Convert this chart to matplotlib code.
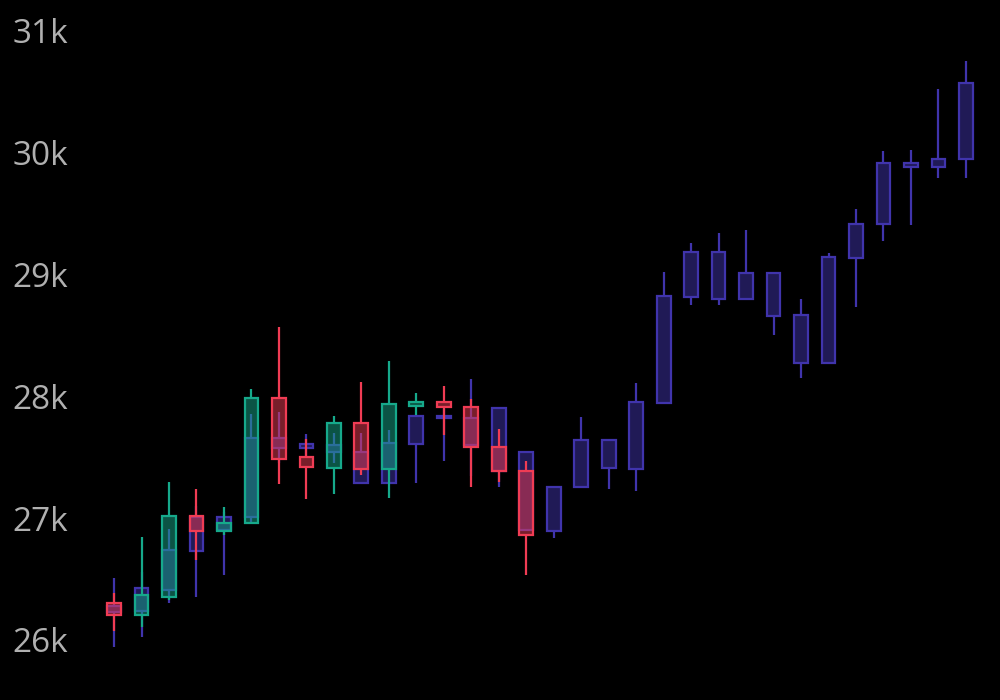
import numpy as np
import matplotlib.pyplot as plt

# first series: 32 sessions, drawn in indigo for both directions
a_open = [26230, 26238, 26411, 26733, 26903, 27012, 27576, 27576, 27541, 27287,
          27287, 27607, 27821, 27600, 27383, 26903, 26897, 27254, 27410, 27406,
          27948, 28819, 28797, 28797, 28663, 28277, 28277, 29134, 29413, 29881,
          29881, 29947]
a_high = [26509, 26560, 26911, 27100, 27050, 27853, 27874, 27689, 27700, 27700,
          27724, 27842, 27900, 28140, 27907, 27546, 27259, 27828, 27642, 28108,
          29019, 29262, 29339, 29366, 29016, 28800, 29175, 29539, 30018, 30023,
          30521, 30757]
a_low = [25942, 26025, 26304, 26355, 26534, 26960, 27450, 27500, 27450, 27287,
         27287, 27287, 27472, 27350, 27254, 26903, 26835, 27254, 27237, 27226,
         27948, 28750, 28750, 28797, 28504, 28149, 28277, 28737, 29276, 29407,
         29790, 29790]
a_close = [26279, 26427, 26739, 27010, 27012, 27656, 27656, 27609, 27601, 27546,
           27615, 27842, 27842, 27826, 27907, 27546, 27259, 27642, 27642, 27954,
           28824, 29186, 29188, 29016, 29016, 28668, 29142, 29415, 29919, 29919,
           29952, 30576]

# second series: first 16 sessions, green up / red down
b_open = [26301, 26205, 26356, 27021, 26895, 26958, 27989, 27498, 27415, 27780,
          27401, 27921, 27951, 27916, 27588, 27390]
b_high = [26388, 26846, 27300, 27237, 27090, 28058, 28572, 27650, 27835, 28116,
          28291, 28026, 28088, 27976, 27730, 27472]
b_low = [26076, 26110, 26330, 26657, 26862, 26958, 27278, 27155, 27199, 27355,
         27168, 27847, 27683, 27254, 27300, 26534]
b_close = [26205, 26369, 27021, 26897, 26963, 27989, 27486, 27416, 27780, 27404,
           27935, 27957, 27910, 27582, 27383, 26862]

yticks = [26000, 27000, 28000, 29000, 30000, 31000]
ytick_labels = ['26k', '27k', '28k', '29k', '30k', '31k']

INDIGO = '#4034ac'
GREEN = '#16a98b'
RED = '#f03c54'


def draw_candles(ax, o, h, l, c, up_color, down_color, z):
    o, h, l, c = map(np.asarray, (o, h, l, c))
    x = np.arange(len(o))
    top = np.maximum(o, c)
    bot = np.minimum(o, c)
    cols = [up_color if cc >= oo else down_color for oo, cc in zip(o, c)]
    # wicks only outside the body, like plotly does
    ax.vlines(x, top, h, colors=cols, linewidth=1.6, zorder=z)
    ax.vlines(x, l, bot, colors=cols, linewidth=1.6, zorder=z)
    heights = np.maximum(top - bot, 8)
    for xi, b, hh, col in zip(x, bot, heights, cols):
        ax.bar(xi, hh, bottom=b, width=0.5, color=col, alpha=0.5,
               linewidth=0, zorder=z)
        ax.bar(xi, hh, bottom=b, width=0.5, fill=False, edgecolor=col,
               linewidth=1.6, zorder=z + 0.1)


fig = plt.figure(figsize=(10, 7), dpi=100, facecolor='black')
ax = fig.add_axes([0, 0, 1, 1])
ax.set_facecolor('black')

draw_candles(ax, a_open, a_high, a_low, a_close, INDIGO, INDIGO, 2)
draw_candles(ax, b_open, b_high, b_low, b_close, GREEN, RED, 3)

ax.set_xlim(-4.15, 32.24)
ax.set_ylim(25507, 31254)
ax.set_xticks([])
ax.set_yticks(yticks)
ax.set_yticklabels(ytick_labels, fontsize=24, color='#b0b0b0', family='Open Sans')
ax.tick_params(axis='y', length=0, pad=-9)
for lab in ax.get_yticklabels():
    lab.set_horizontalalignment('left')
for s in ax.spines.values():
    s.set_visible(False)

fig.savefig('out.png', dpi=100, facecolor='black')
